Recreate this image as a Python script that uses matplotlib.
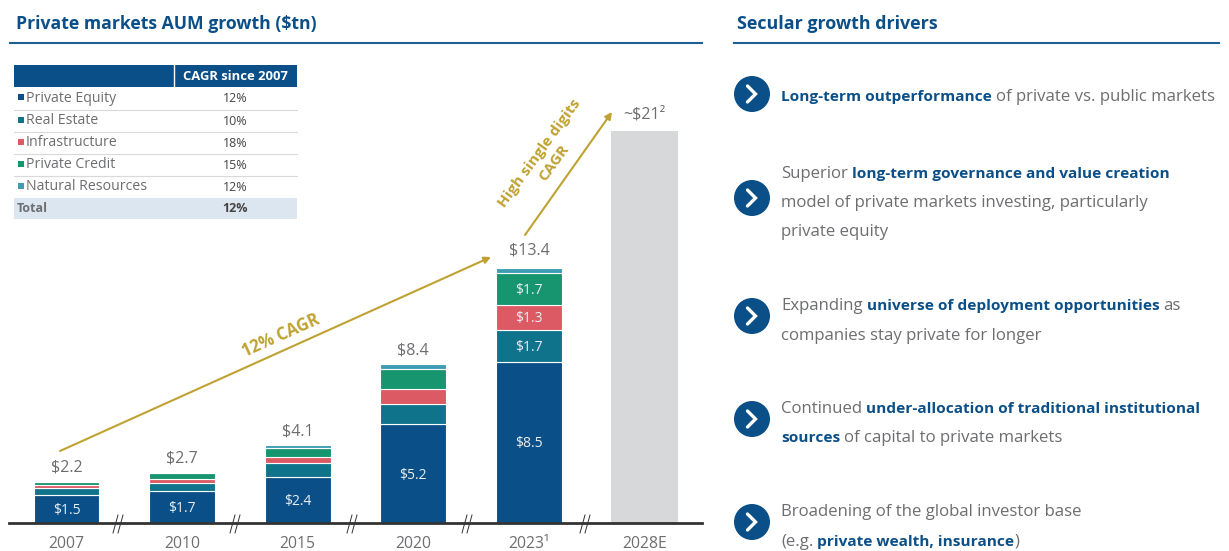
import matplotlib
matplotlib.use("Agg")
import matplotlib.pyplot as plt
from matplotlib.patches import Rectangle, Circle

plt.rcParams['font.family'] = ['Open Sans', 'DejaVu Sans']

years = ['2007', '2010', '2015', '2020', '2023¹', '2028E']
private_equity = [1.5, 1.7, 2.4, 5.2, 8.5]
real_estate = [0.33, 0.42, 0.75, 1.05, 1.7]
infrastructure = [0.17, 0.2, 0.33, 0.8, 1.3]
private_credit = [0.15, 0.3, 0.45, 1.05, 1.7]
natural_resources = [0.05, 0.08, 0.17, 0.3, 0.25]
totals = ['$2.2', '$2.7', '$4.1', '$8.4', '$13.4']
total_values = [2.2, 2.7, 4.1, 8.4, 13.4]
forecast_value = 20.7
forecast_label = '~$21²'

table_names = ['Private Equity', 'Real Estate', 'Infrastructure', 'Private Credit', 'Natural Resources']
table_cagr = ['12%', '10%', '18%', '15%', '12%']
total_cagr = '12%'

drivers = [
    [[('Long-term outperformance ', True), ('of private vs. public markets', False)]],
    [[('Superior ', False), ('long-term governance and value creation', True)],
     [('model of private markets investing, particularly', False)],
     [('private equity', False)]],
    [[('Expanding ', False), ('universe of deployment opportunities ', True), ('as', False)],
     [('companies stay private for longer', False)]],
    [[('Continued ', False), ('under-allocation of traditional institutional', True)],
     [('sources ', True), ('of capital to private markets', False)]],
    [[('Broadening of the global investor base', False)],
     [('(e.g. ', False), ('private wealth, insurance', True), (')', False)]],
]
driver_line_y = [[97], [174, 203, 232], [306, 336], [409, 438], [512, 542]]
circle_y = [94, 198, 316, 419, 522]

NAVY = '#0A4F87'
TEAL = '#0F738C'
RED = '#DC5A64'
GREEN = '#17956F'
AQUA = '#3F9DB3'
GRAY = '#6D6E71'
GOLD = '#BFA232'
colors = [NAVY, TEAL, RED, GREEN, AQUA]

W, H = 1229, 551
fig = plt.figure(figsize=(W / 100, H / 100), dpi=100)

# bar chart axes, placed in pixels so the baseline sits at y=523
left, right, top, bottom = 9, 702, 60, 523
ax = fig.add_axes([left / W, 1 - bottom / H, (right - left) / W, (bottom - top) / H])
step = 115.6
ax.set_xlim((left - 66.5) / step, (right - 66.5) / step)
ax.set_ylim(0, (bottom - top) / 18.96)
ax.patch.set_alpha(0)
for s in ['top', 'left', 'right']:
    ax.spines[s].set_visible(False)
ax.spines['bottom'].set_linewidth(2)
ax.spines['bottom'].set_color('#333333')
ax.set_yticks([])
ax.set_xticks(range(len(years)))
ax.set_xticklabels(years, fontsize=11.3, color=GRAY)
ax.tick_params(axis='x', length=0, pad=9.5)

series = [private_equity, real_estate, infrastructure, private_credit, natural_resources]
base = [0.0] * 5
for values, color in zip(series, colors):
    ax.bar(range(5), values, 0.57, bottom=base, color=color, edgecolor='white', linewidth=0.8)
    for i, v in enumerate(values):
        # only 2023 has labels on the upper segments
        if color == NAVY or (i == 4 and color != AQUA):
            ax.text(i, base[i] + v / 2 - 0.08, f'${v:.1f}', ha='center', va='center', fontsize=10, color='#E8EEF4')
    base = [b + v for b, v in zip(base, values)]

ax.bar([5], [forecast_value], 0.58, color='#D7D8DA')
for i, (t, v) in enumerate(zip(totals, total_values)):
    # the 2023 total sits a little higher above its bar
    ax.annotate(t, (i, v), xytext=(0, 7.5 if i == 4 else 4), textcoords='offset points', ha='center', va='bottom',
                fontsize=11.5, color=GRAY)
ax.annotate(forecast_label, (5, forecast_value), xytext=(0, 6), textcoords='offset points',
            ha='center', va='bottom', fontsize=11.5, color=GRAY)

# overlay in pixel coordinates for everything that is not a bar
ov = fig.add_axes([0, 0, 1, 1])
ov.set_xlim(0, W)
ov.set_ylim(H, 0)
ov.axis('off')
ov.patch.set_alpha(0)

ov.text(16, 24, 'Private markets AUM growth ($tn)', fontsize=12.7, fontweight='bold', color=NAVY, va='center')
ov.text(737, 24, 'Secular growth drivers', fontsize=12.9, fontweight='bold', color=NAVY, va='center')
ov.plot([10, 702], [42.5, 42.5], color='#1F5F96', lw=1.5)
ov.plot([734, 1219], [42.5, 42.5], color='#1F5F96', lw=1.5)

# axis break marks
for x in [118, 235, 352, 467, 585]:
    ov.plot([x - 5, x], [533, 515], color='#333333', lw=0.7)
    ov.plot([x, x + 5], [533, 515], color='#333333', lw=0.7)

# growth arrows
ov.annotate('', xy=(491, 257), xytext=(60, 451),
            arrowprops=dict(arrowstyle='-|>', color=GOLD, lw=1.5, mutation_scale=10, shrinkA=0, shrinkB=0))
ov.annotate('', xy=(612, 112), xytext=(525, 235),
            arrowprops=dict(arrowstyle='-|>', color=GOLD, lw=1.5, mutation_scale=10, shrinkA=0, shrinkB=0))
ov.text(281, 336, '12% CAGR', rotation=24, ha='center', va='center', fontsize=12,
        fontweight='bold', color=GOLD, rotation_mode='anchor')
ov.text(547, 158, 'High single digits\nCAGR', rotation=54, ha='center', va='center', fontsize=11,
        fontweight='bold', color=GOLD, rotation_mode='anchor', multialignment='center', linespacing=1.3)

# CAGR table
ov.add_patch(Rectangle((14, 65), 283, 22, color=NAVY, lw=0))
ov.plot([174, 174], [65, 87], color='white', lw=1)
ov.text(235.5, 76.5, 'CAGR since 2007', ha='center', va='center', fontsize=9.4, fontweight='bold', color='white')
row_y = [87, 109.5, 131.5, 153.5, 175.5, 197.5]
for i, (name, cagr) in enumerate(zip(table_names, table_cagr)):
    mid = row_y[i] + 10.5
    ov.add_patch(Rectangle((17.5, mid - 3.5), 6, 6, color=colors[i], lw=0))
    ov.text(26, mid + 1, name, va='center', fontsize=10.2, color=GRAY)
    ov.text(235.5, mid + 1.5, cagr, ha='center', va='center', fontsize=9, color='#444444')
    if i < 4:
        ov.plot([14, 297], [row_y[i + 1], row_y[i + 1]], color='#D9D9D9', lw=0.8)
ov.add_patch(Rectangle((14, 197.5), 283, 21.5, color='#DCE6F1', lw=0))
ov.text(17, 208.5, 'Total', va='center', fontsize=9, fontweight='bold', color=GRAY)
ov.text(235.5, 208.5, total_cagr, ha='center', va='center', fontsize=9, fontweight='bold', color='#444444')

# right hand list, runs of regular and bold text on one line
renderer = fig.canvas.get_renderer()


def draw_runs(x, y, runs):
    for text, bold in runs:
        t = ov.text(x, y, text.strip(), va='center', fontsize=11.1 if bold else 12.1,
                    fontweight='bold' if bold else 'normal', color=NAVY if bold else GRAY)
        x += t.get_window_extent(renderer).width
        if text.endswith(' '):
            x += 4


for lines, ys, cy in zip(drivers, driver_line_y, circle_y):
    ov.add_patch(Circle((752, cy), 18, color=NAVY, lw=0))
    ov.plot([747.5, 755.5, 747.5], [cy - 8, cy, cy + 8], color='white', lw=2.4, solid_capstyle='round',
            solid_joinstyle='miter')
    for runs, y in zip(lines, ys):
        draw_runs(781, y, runs)

fig.savefig('out.png', dpi=100)
